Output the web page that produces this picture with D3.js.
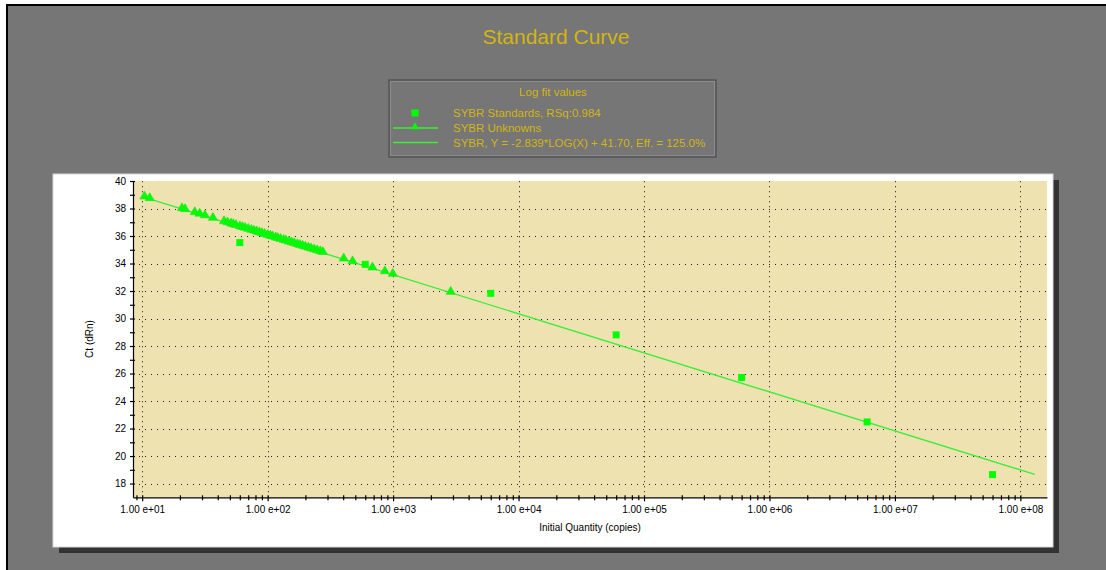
<!DOCTYPE html>
<html>
<head>
<meta charset="utf-8">
<script src="https://cdn.jsdelivr.net/npm/d3@7/dist/d3.min.js"></script>
<style>
  html, body { margin: 0; padding: 0; background: #ffffff; }
  svg { display: block; }
  text { font-family: "Liberation Sans", Arial, sans-serif; }
</style>
</head>
<body>
<svg id="chart" width="1106" height="570"></svg>
<script>
// Standards: known copy numbers and measured Ct
const standardQty = [6e1, 6e2, 6e3, 6e4, 6e5, 6e6, 6e7];
const standardCt  = [35.52, 33.94, 31.83, 28.81, 25.71, 22.48, 18.65];

// Unknowns: measured Ct (quantity is read back from the fitted curve)
const unknownCt = [
  38.81, 38.69, 37.96, 37.89, 37.67, 37.56, 37.44, 37.26,
  37.01, 36.93, 36.85, 36.80, 36.74, 36.65, 36.59, 36.53, 36.46, 36.39,
  36.33, 36.27, 36.21, 36.15, 36.09, 36.02, 35.96, 35.91, 35.84, 35.79,
  35.73, 35.66, 35.61, 35.54, 35.48, 35.42, 35.35, 35.29, 35.23, 35.17,
  35.10, 35.04, 34.97, 34.90, 34.83, 34.77,
  34.30, 34.10, 33.65, 33.37, 33.19, 31.88
];

// Log fit of the standards: Ct = slope * log10(qty) + intercept
const fitSlope = -2.839;
const fitIntercept = 41.70;
const fitRange = [10, 1.3e8];

const yTicks = [18, 20, 22, 24, 26, 28, 30, 32, 34, 36, 38, 40];
const yMinorTicks = [19, 21, 23, 25, 27, 29, 31, 33, 35, 37, 39];
const xDecades = [1e1, 1e2, 1e3, 1e4, 1e5, 1e6, 1e7, 1e8];
const xTickLabels = ["1.00 e+01", "1.00 e+02", "1.00 e+03", "1.00 e+04",
                     "1.00 e+05", "1.00 e+06", "1.00 e+07", "1.00 e+08"];

const titleText = "Standard Curve";
const legendTitle = "Log fit values";
const legendLabels = [
  "SYBR Standards, RSq:0.984",
  "SYBR Unknowns",
  "SYBR, Y = -2.839*LOG(X) + 41.70, Eff. = 125.0%"
];
const xAxisTitle = "Initial Quantity (copies)";
const yAxisTitle = "Ct (dRn)";

// ---------------------------------------------------------------
const svg = d3.select("#chart");
const W = 1106, H = 570;

const GREEN = "#00ff00";
const LINE_GREEN = "#3cee3c";
const GOLD = "#d2b512";
const BG = "#767676";

// window background and frame
svg.append("rect").attr("x", 6).attr("y", 4).attr("width", W - 6).attr("height", H - 4)
  .attr("fill", BG);
svg.append("rect").attr("x", 6).attr("y", 4).attr("width", W - 6).attr("height", 2).attr("fill", "#000");
svg.append("rect").attr("x", 6).attr("y", 4).attr("width", 2).attr("height", H - 4).attr("fill", "#000");

// title
svg.append("text").attr("x", 556).attr("y", 44).attr("text-anchor", "middle")
  .attr("font-size", 21).attr("fill", GOLD).text(titleText);

// legend box
const lg = svg.append("g");
lg.append("rect").attr("x", 389).attr("y", 80).attr("width", 327).attr("height", 77)
  .attr("fill", BG).attr("stroke", "#555").attr("stroke-width", 1.5);
lg.append("rect").attr("x", 390.5).attr("y", 81.5).attr("width", 324).attr("height", 74)
  .attr("fill", "none").attr("stroke", "#8c8c8c").attr("stroke-width", 1);
lg.append("text").attr("x", 553).attr("y", 96).attr("text-anchor", "middle")
  .attr("font-size", 11.5).attr("fill", GOLD).text(legendTitle);
const rowY = [113, 128, 142.5];
lg.selectAll("text.lab").data(legendLabels).join("text").attr("class", "lab")
  .attr("x", 453).attr("y", (d, i) => rowY[i] + 4)
  .attr("font-size", 11.5).attr("fill", GOLD).text(d => d);
lg.append("rect").attr("x", 411.5).attr("y", rowY[0] - 3.5).attr("width", 7).attr("height", 7).attr("fill", GREEN);
lg.append("line").attr("x1", 393).attr("x2", 438).attr("y1", rowY[1]).attr("y2", rowY[1])
  .attr("stroke", LINE_GREEN).attr("stroke-width", 1.3);
lg.append("path").attr("d", d3.symbol(d3.symbolTriangle, 28)())
  .attr("transform", `translate(415,${rowY[1] - 1})`).attr("fill", GREEN);
lg.append("line").attr("x1", 393).attr("x2", 438).attr("y1", rowY[2]).attr("y2", rowY[2])
  .attr("stroke", LINE_GREEN).attr("stroke-width", 1.3);

// white chart panel with drop shadow
svg.append("rect").attr("x", 59).attr("y", 180).attr("width", 1000).attr("height", 373).attr("fill", "#333");
svg.append("rect").attr("x", 53).attr("y", 174).attr("width", 1000).attr("height", 373)
  .attr("fill", "#fff").attr("stroke", "#d8d8d8").attr("stroke-width", 1);

// scales
const plotL = 133, plotR = 1047, plotT = 181, plotB = 497.3;
const x = d3.scaleLog().domain([8.45, 1.63e8]).range([plotL, plotR]);
const y = d3.scaleLinear().domain([17, 40]).range([plotB, plotT]);

// plot background
svg.append("rect").attr("x", plotL).attr("y", plotT).attr("width", plotR - plotL).attr("height", plotB - plotT)
  .attr("fill", "#eee3b0");

// grid
const grid = svg.append("g").attr("stroke", "#222").attr("stroke-width", 1).attr("stroke-dasharray", "1,5");
grid.selectAll("line.h").data(yTicks.filter(v => v < 40)).join("line").attr("class", "h")
  .attr("x1", plotL).attr("x2", plotR)
  .attr("y1", d => Math.round(y(d)) + 0.5).attr("y2", d => Math.round(y(d)) + 0.5);
grid.selectAll("line.v").data(xDecades).join("line").attr("class", "v")
  .attr("stroke-dasharray", "1.3,3.7").attr("stroke", "#444")
  .attr("y1", plotT).attr("y2", plotB)
  .attr("x1", d => Math.round(x(d)) + 0.5).attr("x2", d => Math.round(x(d)) + 0.5);

// axes
const fmt = d3.scaleOrdinal().domain(xDecades).range(xTickLabels);
const xMinor = [];
for (let e = 0; e <= 8; e++) for (let m = 2; m <= 9; m++) {
  const v = m * Math.pow(10, e);
  if (v > 8.45 && v < 1.63e8) xMinor.push(v);
}
svg.append("g").attr("transform", `translate(0,${plotB})`)
  .call(d3.axisBottom(x).tickValues(xDecades).tickFormat(d => fmt(d)).tickSize(4).tickSizeOuter(0).tickPadding(5));
svg.append("g").attr("transform", `translate(0,${plotB})`)
  .call(d3.axisBottom(x).tickValues(xMinor).tickFormat("").tickSize(3).tickSizeOuter(0))
  .call(g => g.select(".domain").remove());
svg.append("g").attr("transform", `translate(${plotL},0)`)
  .call(d3.axisLeft(y).tickValues(yTicks).tickSize(3).tickSizeOuter(0).tickPadding(4));
svg.append("g").attr("transform", `translate(${plotL},0)`)
  .call(d3.axisLeft(y).tickValues(yMinorTicks).tickFormat("").tickSize(3).tickSizeOuter(0))
  .call(g => g.select(".domain").remove());
// ticks cross the axis line
svg.selectAll(".tick line").each(function () {
  const l = d3.select(this);
  if (l.attr("x2") !== null && +l.attr("x2") < 0) l.attr("x1", 2);
  if (l.attr("y2") !== null && +l.attr("y2") > 0) l.attr("y1", -2);
});
svg.selectAll(".domain").attr("stroke", "#000").attr("stroke-width", 1.2);
svg.selectAll(".tick line").attr("stroke", "#000").attr("stroke-width", 1.2);
svg.selectAll(".tick text").attr("font-family", "'Liberation Sans', Arial, sans-serif")
  .attr("font-size", 10).attr("fill", "#000");

// axis titles
svg.append("text").attr("x", 590).attr("y", 531).attr("text-anchor", "middle")
  .attr("font-size", 10).attr("fill", "#000").text(xAxisTitle);
svg.append("text").attr("transform", "translate(93,339) rotate(-90)").attr("text-anchor", "middle")
  .attr("font-size", 10).attr("fill", "#000").text(yAxisTitle);

// fitted line
const fitCt = q => fitSlope * Math.log10(q) + fitIntercept;
const fitQty = ct => Math.pow(10, (ct - fitIntercept) / fitSlope);
svg.append("path")
  .datum(fitRange)
  .attr("d", d3.line().x(d => x(d)).y(d => y(fitCt(d))))
  .attr("stroke", LINE_GREEN).attr("stroke-width", 1.4).attr("fill", "none");

// unknowns
svg.append("g").selectAll("path").data(unknownCt).join("path")
  .attr("d", d3.symbol(d3.symbolTriangle, 36)())
  .attr("transform", d => `translate(${x(fitQty(d))},${y(d) - 1})`)
  .attr("fill", GREEN).attr("stroke", "#22dd22").attr("stroke-width", 0.6);

// standards
svg.append("g").selectAll("rect").data(standardQty).join("rect")
  .attr("x", d => x(d) - 3.5)
  .attr("y", (d, i) => y(standardCt[i]) - 3.5)
  .attr("width", 7).attr("height", 7)
  .attr("fill", GREEN);
</script>
</body>
</html>
